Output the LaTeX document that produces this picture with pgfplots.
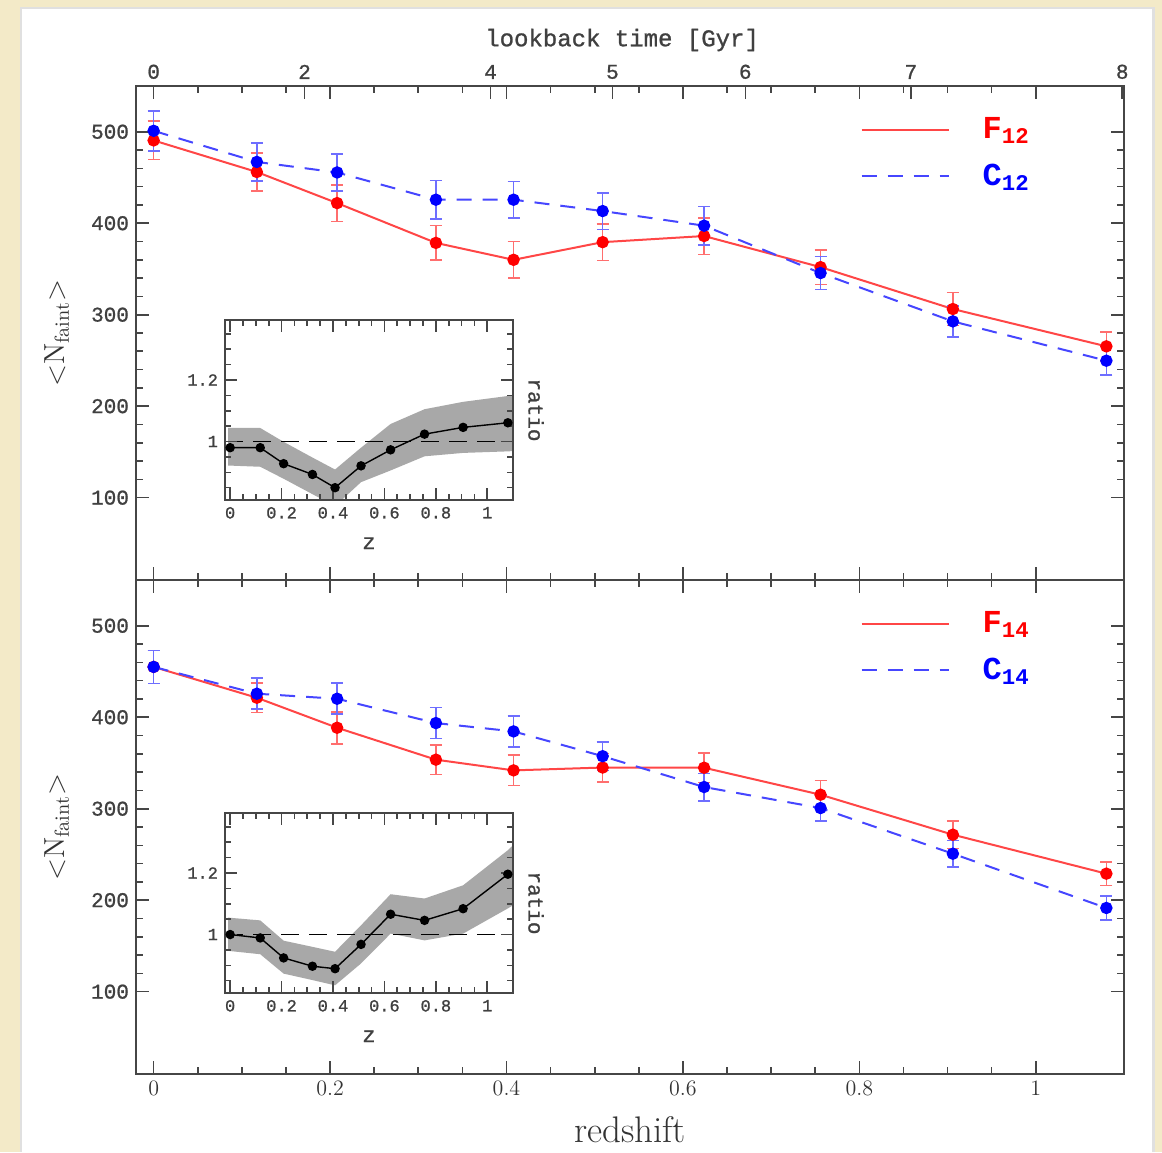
\documentclass[border=0pt]{standalone}
\usepackage{fontspec}
\usepackage{pgfplots}
\usepackage{pgfplotstable}
\pgfplotsset{compat=1.18}
\newfontfamily\slab[FakeBold=1.0]{Liberation Mono}
\newfontfamily\slabbf{Liberation Mono Bold}
\definecolor{bgbeige}{RGB}{243,234,200}
\definecolor{linered}{RGB}{255,70,70}
\definecolor{lineblue}{RGB}{70,70,255}
\definecolor{errred}{RGB}{255,110,110}
\definecolor{errblue}{RGB}{110,110,255}
\definecolor{axgray}{RGB}{70,70,70}
\definecolor{bandgray}{RGB}{168,168,168}

\pgfplotstableread{
z F eF C eC
0.000 490.5 21 501.0 22
0.117 456.0 21 467.0 21
0.208 422.0 20 455.5 20
0.320 378.5 19 425.7 21
0.408 360.0 20 425.7 20
0.509 379.3 20 413.3 20
0.624 386.0 20 397.3 21
0.756 352.0 19 345.5 18
0.906 306.2 18 292.7 17
1.080 265.4 16 249.7 15.5
}\toptable

\pgfplotstableread{
z F eF C eC
0.000 455.0 18 455.0 18
0.117 421.3 16 425.7 17
0.208 388.5 17.5 420.2 17
0.320 353.6 16 393.6 17
0.408 341.9 16.5 384.5 17
0.509 345.0 15.5 357.4 15.5
0.624 344.8 16 323.7 15
0.756 315.3 15.5 300.7 14.2
0.906 271.6 15 250.8 14.6
1.080 229.0 13 191.5 13
}\bottable

% ratio F/C
\pgfplotstableread{
z r
0.000 0.980
0.117 0.980
0.208 0.928
0.320 0.893
0.408 0.850
0.509 0.921
0.624 0.973
0.756 1.024
0.906 1.046
1.080 1.061
}\topratio

\pgfplotstableread{
z r
0.000 1.000
0.117 0.989
0.208 0.924
0.320 0.897
0.408 0.889
0.509 0.968
0.624 1.066
0.756 1.046
0.906 1.084
1.080 1.196
}\botratio

% uncertainty bands: upper edge left to right, then lower edge right to left
\pgfplotstableread{
z v
-0.008 1.044
0.117 1.044
0.208 0.999
0.320 0.948
0.408 0.909
0.509 0.980
0.624 1.057
0.756 1.105
0.906 1.129
1.080 1.148
1.100 1.150
1.100 0.969
1.080 0.968
0.906 0.963
0.756 0.952
0.624 0.906
0.509 0.868
0.408 0.790
0.320 0.829
0.208 0.879
0.117 0.918
-0.008 0.922
}\topband

\pgfplotstableread{
z v
-0.008 1.055
0.117 1.046
0.208 0.980
0.320 0.960
0.408 0.944
0.509 1.030
0.624 1.131
0.756 1.117
0.906 1.160
1.080 1.274
1.100 1.290
1.100 1.095
1.080 1.085
0.906 1.003
0.756 0.981
0.624 1.003
0.509 0.906
0.408 0.835
0.320 0.852
0.208 0.873
0.117 0.936
-0.008 0.947
}\botband

\pgfplotsset{
  mainax/.style={
    scale only axis, width=494pt, height=247pt,
    xmin=-0.02, xmax=1.1, ymin=10, ymax=550,
    xtick={0,0.2,0.4,0.6,0.8,1}, minor x tick num=3,
    ytick={100,200,300,400,500}, minor y tick num=4,
    tick align=inside, major tick length=6.5pt, minor tick length=3.3pt,
    axis line style={axgray, line width=1pt},
    every tick/.style={axgray, line width=0.8pt},
    /pgf/number format/assume math mode=true,
    yticklabel style={font=\slab\fontsize{10.5}{10.5}\selectfont, text=black!75},
    xticklabel style={font=\fontsize{11}{11}\selectfont, text=black!80},
    every axis y label/.style={at={(rel axis cs:-0.08,0.5)}, rotate=90, anchor=center, font=\fontsize{14.5}{14.5}\selectfont, text=black!80},
    ylabel={$<$N$_{\mathrm{faint}}$$>$},
    legend style={draw=none, fill=none, at={(rel axis cs:0.733,0.945)}, anchor=north west,
      font=\slabbf\fontsize{16}{16}\selectfont, row sep=7pt, inner sep=0pt,
      /tikz/every odd column/.append style={column sep=14.5pt}},
    legend image code/.code={\draw[#1] (0pt,0pt) -- (43.5pt,0pt);},
    legend cell align=left,
  },
  redser/.style={linered, line width=1pt, mark=*, mark size=2.6pt,
    mark options={solid, fill=red, draw=red},
    error bars/.cd, y dir=both, y explicit,
    error bar style={errred, line width=0.8pt, solid},
    error mark options={rotate=90, errred, mark size=3pt, line width=0.8pt, solid}},
  blueser/.style={lineblue, line width=1pt, dash pattern=on 7.5pt off 5.5pt, mark=*, mark size=2.6pt,
    mark options={solid, fill=blue, draw=blue},
    error bars/.cd, y dir=both, y explicit,
    error bar style={errblue, line width=0.8pt, solid},
    error mark options={rotate=90, errblue, mark size=3pt, line width=0.8pt, solid}},
  insetax/.style={
    scale only axis, width=144pt, height=90pt,
    xmin=-0.02, xmax=1.1, ymin=0.81, ymax=1.395,
    xtick={0,0.2,0.4,0.6,0.8,1}, minor x tick num=3,
    ytick={1,1.2}, minor ytick={0.85,0.9,0.95,1.05,1.1,1.15,1.25,1.3,1.35},
    tick align=inside, major tick length=6pt, minor tick length=3.2pt,
    axis line style={axgray, line width=0.9pt},
    every tick/.style={axgray, line width=0.8pt},
    axis on top,
    /pgf/number format/assume math mode=true,
    tick label style={font=\slab\fontsize{8.5}{8.5}\selectfont, text=black!75},
    xlabel={z}, ylabel={ratio},
    every axis x label/.style={at={(rel axis cs:0.5,-0.24)}, anchor=center, font=\slab\fontsize{11}{11}\selectfont, text=black!75},
    every axis y label/.style={at={(rel axis cs:1.08,0.5)}, rotate=-90, anchor=center, font=\slab\fontsize{10.5}{10.5}\selectfont, text=black!75},
  }
}

\begin{document}
\begin{tikzpicture}
\useasboundingbox (0,0) rectangle (581pt,576pt);
\fill[bgbeige] (0,0) rectangle (581pt,576pt);
\fill[black!12] (10pt,0) rectangle (577.5pt,572.5pt);
\fill[white] (11pt,0) rectangle (576pt,571.5pt);

% ---------- top panel ----------
\begin{axis}[mainax, at={(68pt,286pt)}, xticklabels={}]
\addplot[redser] table[x=z, y=F, y error=eF] {\toptable};
\addlegendentry{\textcolor{red}{F\textsubscript{12}}}
\addplot[blueser] table[x=z, y=C, y error=eC] {\toptable};
\addlegendentry{\textcolor{blue}{C\textsubscript{12}}}
\end{axis}

% lookback time axis
\begin{axis}[scale only axis, width=494pt, height=247pt, at={(68pt,286pt)},
  xmin=-0.02, xmax=1.1, ymin=0, ymax=1,
  axis x line*=top, axis y line=none,
  xtick={0,0.1711,0.3819,0.5201,0.6707,0.8584,1.098},
  xticklabels={0,2,4,5,6,7,8},
  tick align=inside, major tick length=6.5pt,
  axis line style={axgray, line width=1pt},
  every tick/.style={axgray, line width=0.8pt},
  /pgf/number format/assume math mode=true,
  xticklabel style={font=\slab\fontsize{10.5}{10.5}\selectfont, text=black!75},
  xlabel={lookback time [Gyr]},
  every axis x label/.style={at={(rel axis cs:0.492,1.093)}, anchor=center, font=\slab\fontsize{12}{12}\selectfont, text=black!75}]
\addplot[draw=none, mark=none] coordinates {(0,0.5) (1,0.5)};
\end{axis}

% ---------- bottom panel ----------
\begin{axis}[mainax, at={(68pt,39pt)}, xlabel={redshift},
  every axis x label/.style={at={(rel axis cs:0.5,-0.113)}, anchor=center, font=\fontsize{18.5}{18.5}\selectfont, text=black!80}]
\addplot[redser] table[x=z, y=F, y error=eF] {\bottable};
\addlegendentry{\textcolor{red}{F\textsubscript{14}}}
\addplot[blueser] table[x=z, y=C, y error=eC] {\bottable};
\addlegendentry{\textcolor{blue}{C\textsubscript{14}}}
\end{axis}

% ---------- insets ----------
\begin{axis}[insetax, at={(112.5pt,326pt)}]
\addplot[fill=bandgray, draw=none] table[x=z, y=v] {\topband};
\addplot[black, line width=0.8pt, dash pattern=on 9pt off 5pt] coordinates {(-0.02,1) (1.1,1)};
\addplot[black, line width=0.7pt, mark=*, mark size=2pt] table[x=z, y=r] {\topratio};
\end{axis}

\begin{axis}[insetax, at={(112.5pt,79.5pt)}]
\addplot[fill=bandgray, draw=none] table[x=z, y=v] {\botband};
\addplot[black, line width=0.8pt, dash pattern=on 9pt off 5pt] coordinates {(-0.02,1) (1.1,1)};
\addplot[black, line width=0.7pt, mark=*, mark size=2pt] table[x=z, y=r] {\botratio};
\end{axis}
\end{tikzpicture}
\end{document}
